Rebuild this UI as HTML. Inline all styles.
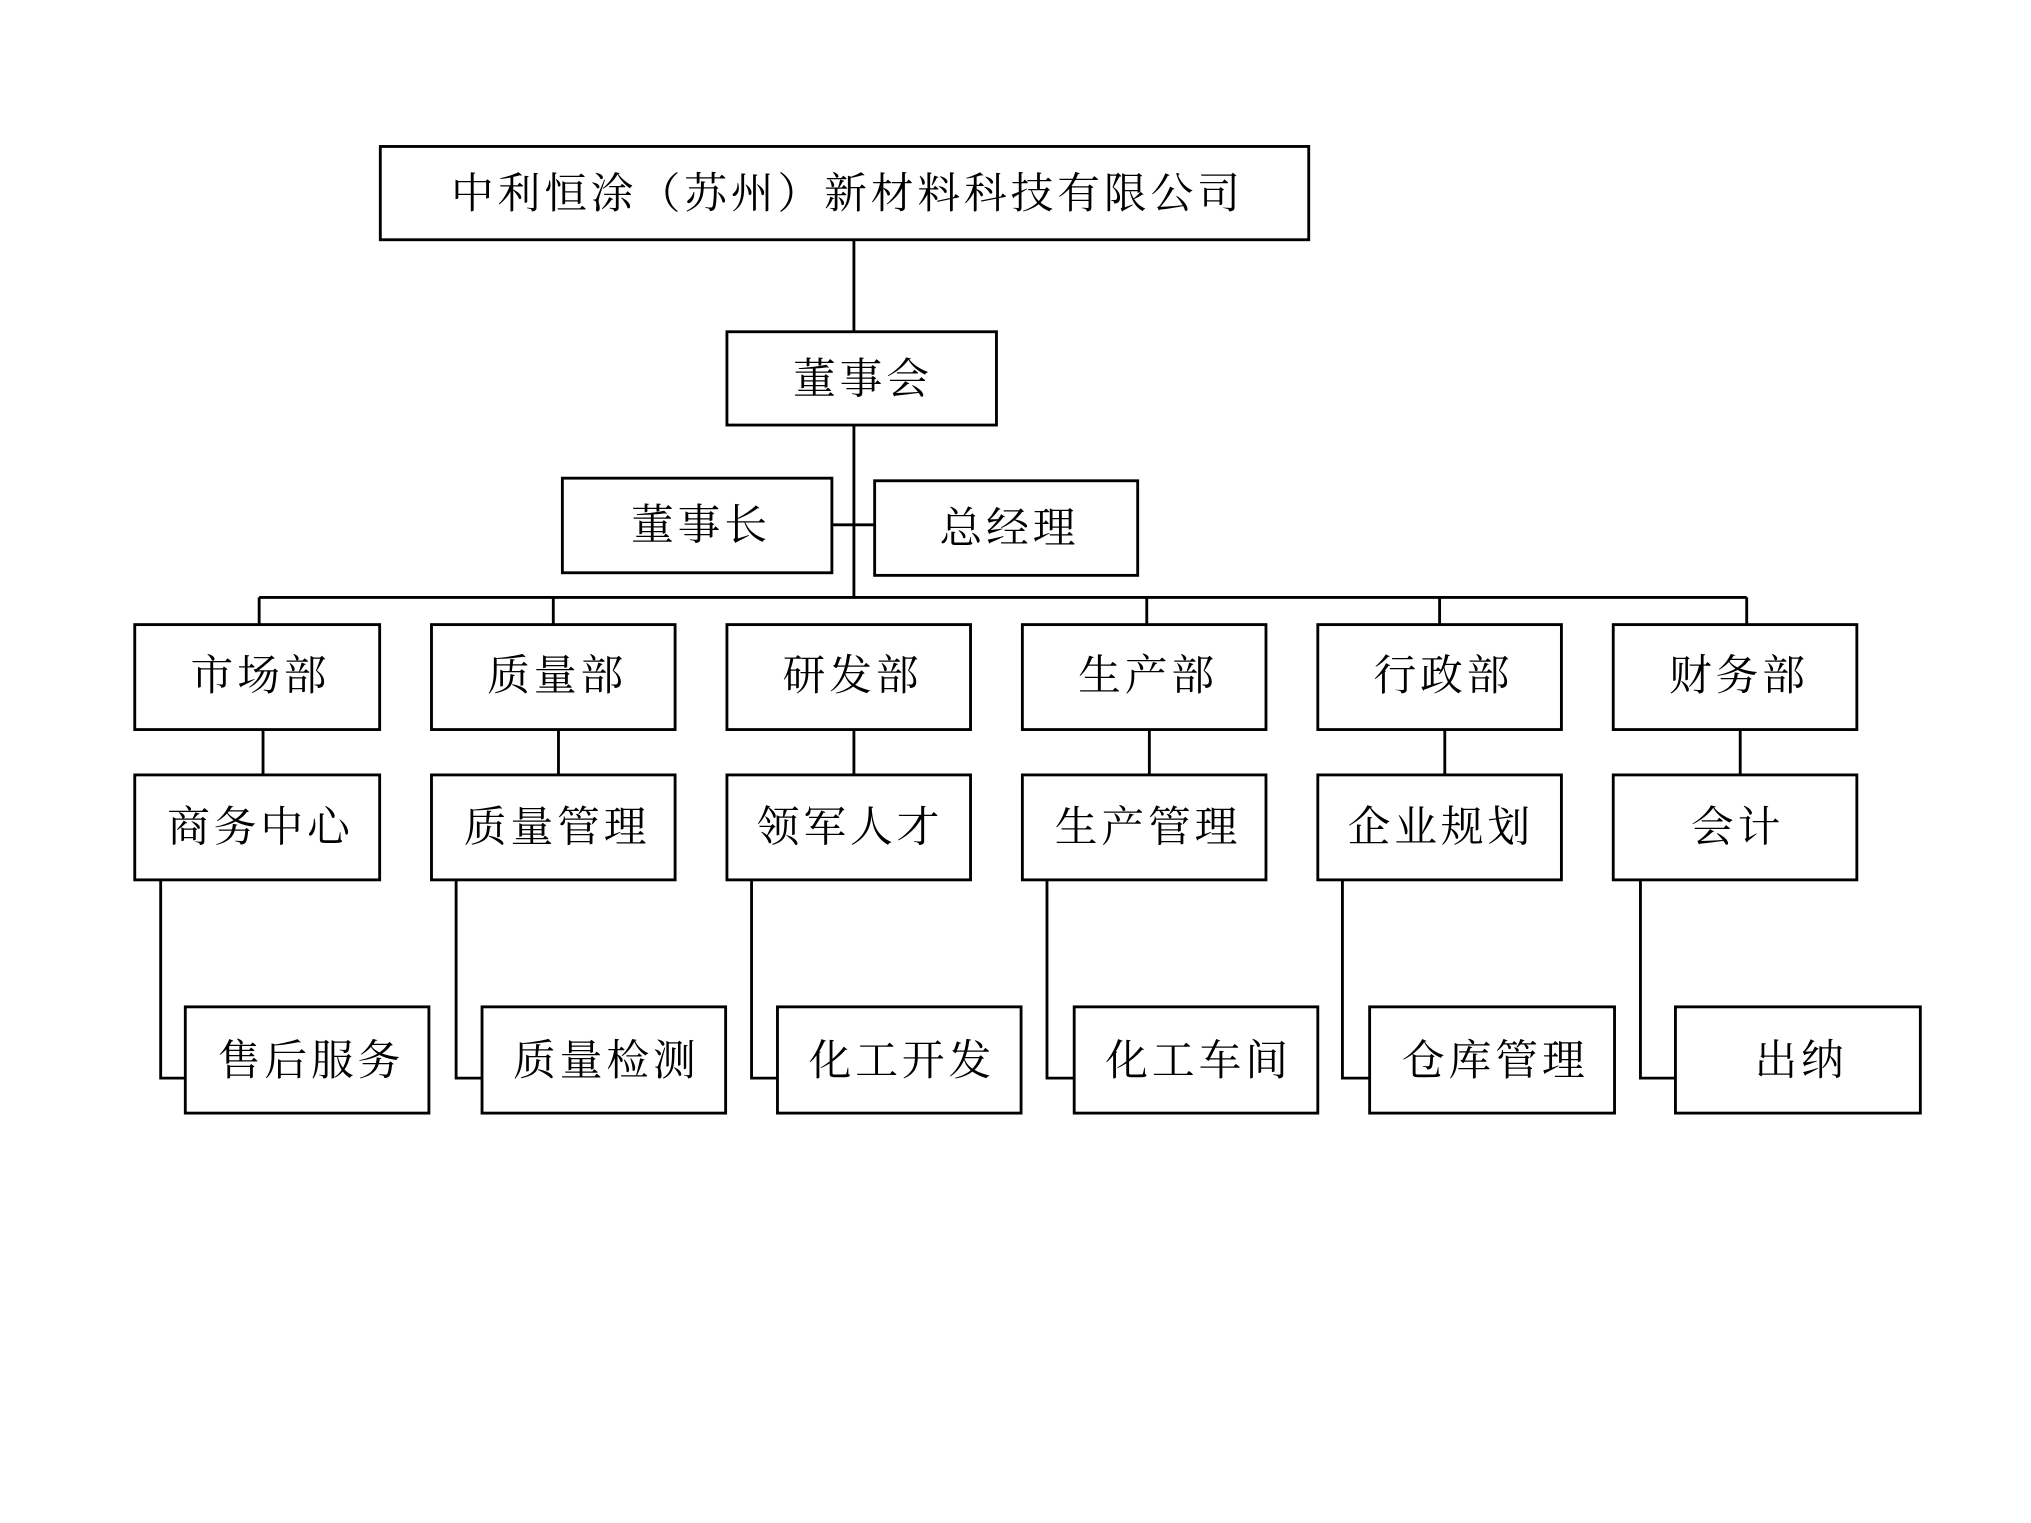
<!DOCTYPE html>
<html><head><meta charset="utf-8"><style>
html,body{margin:0;padding:0;background:#fff}
svg{display:block}
text{font-family:"Noto Serif CJK SC","Liberation Serif",serif;fill:#000;text-anchor:middle;dominant-baseline:central}
</style></head><body>
<svg width="2031" height="1523" viewBox="0 0 1567.4 1175.3" xmlns="http://www.w3.org/2000/svg">
<g fill="#fff" stroke="#000" stroke-width="2.2">
<rect x="293.5" y="113" width="716.5" height="72"/>
<rect x="561" y="256" width="208" height="72"/>
<rect x="434" y="369" width="208" height="73"/>
<rect x="675" y="371" width="203" height="73"/>
<rect x="104" y="482" width="189" height="81"/>
<rect x="333" y="482" width="188" height="81"/>
<rect x="561" y="482" width="188" height="81"/>
<rect x="789" y="482" width="188" height="81"/>
<rect x="1017" y="482" width="188" height="81"/>
<rect x="1245" y="482" width="188" height="81"/>
<rect x="104" y="598" width="189" height="81"/>
<rect x="333" y="598" width="188" height="81"/>
<rect x="561" y="598" width="188" height="81"/>
<rect x="789" y="598" width="188" height="81"/>
<rect x="1017" y="598" width="188" height="81"/>
<rect x="1245" y="598" width="188" height="81"/>
<rect x="143" y="777" width="188" height="82"/>
<rect x="372" y="777" width="188" height="82"/>
<rect x="600" y="777" width="188" height="82"/>
<rect x="829" y="777" width="188" height="82"/>
<rect x="1057" y="777" width="189" height="82"/>
<rect x="1293" y="777" width="189" height="82"/>
</g>
<g fill="none" stroke="#000" stroke-width="2.2">
<path d="M659 185V256M659 328V461M642 405H675M200 461H1348M200 461V482M427 461V482M885 461V482M1111 461V482M1348 461V482"/>
<path d="M203 563V598M431 563V598M659 563V598M887 563V598M1115 563V598M1343 563V598"/>
<path d="M124 679V832H143M352 679V832H372M580 679V832H600M808 679V832H829M1036 679V832H1057M1266 679V832H1293"/>
</g>
<g font-size="33" letter-spacing="3">
<text x="654" y="147">中利恒涂（苏州）新材料科技有限公司</text>
<text x="666" y="290">董事会</text>
<text x="541" y="403">董事长</text>
<text x="779" y="405">总经理</text>
<text x="201" y="519">市场部</text>
<text x="430" y="519">质量部</text>
<text x="658" y="519">研发部</text>
<text x="886" y="519">生产部</text>
<text x="1114" y="519">行政部</text>
<text x="1342" y="519">财务部</text>
<text x="201" y="636">商务中心</text>
<text x="430" y="636">质量管理</text>
<text x="656" y="636">领军人才</text>
<text x="886" y="636">生产管理</text>
<text x="1112" y="636">企业规划</text>
<text x="1341" y="636">会计</text>
<text x="240" y="816">售后服务</text>
<text x="468" y="816">质量检测</text>
<text x="696" y="816">化工开发</text>
<text x="925" y="816">化工车间</text>
<text x="1154" y="816">仓库管理</text>
<text x="1390" y="816">出纳</text>
</g>
</svg>
</body></html>
